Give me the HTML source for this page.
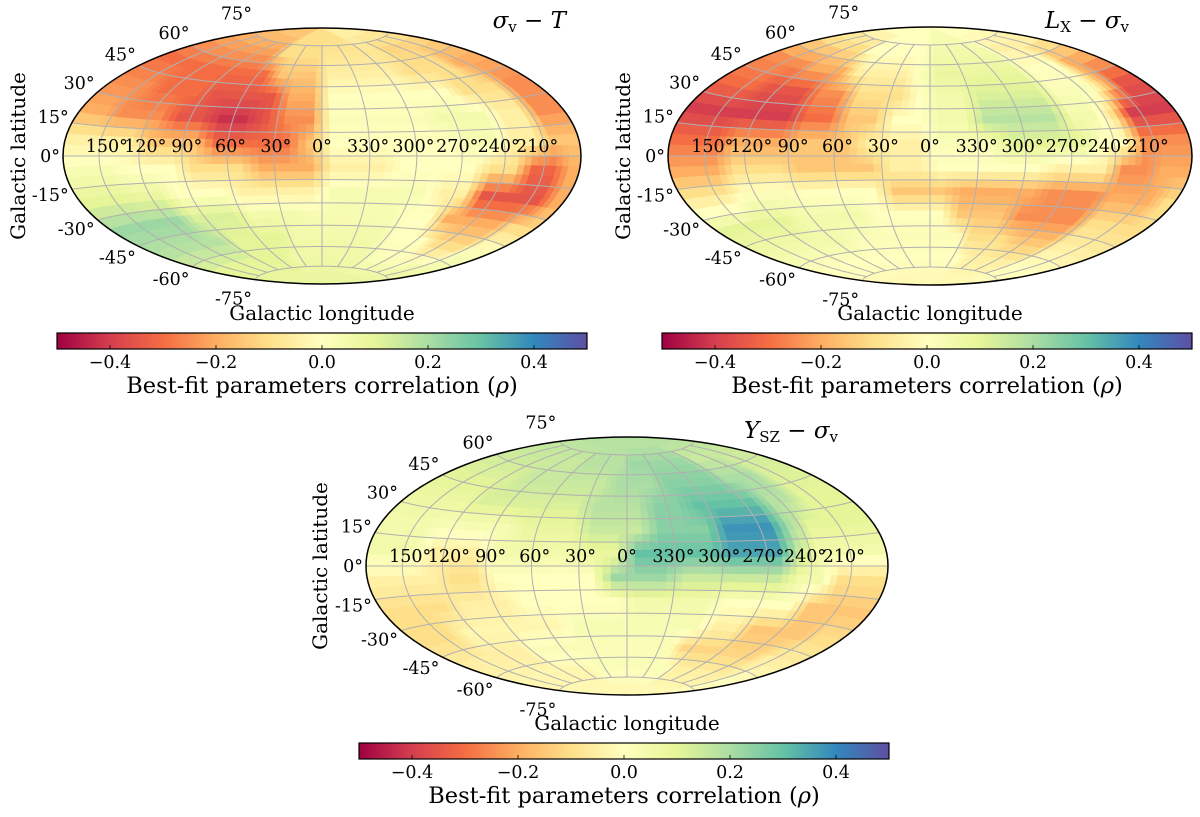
<!DOCTYPE html>
<html><head><meta charset="utf-8">
<style>
html,body{margin:0;padding:0;background:#fff;}
svg{display:block;font-family:"DejaVu Serif","Liberation Serif",serif;}
</style></head>
<body>
<svg id="fig" width="1200" height="817" viewBox="0 0 1200 817" xmlns="http://www.w3.org/2000/svg">
<defs>
<linearGradient id="spectral" x1="0" x2="1" y1="0" y2="0">
<stop offset="0" stop-color="#9e0142"/><stop offset="0.1" stop-color="#d53e4f"/><stop offset="0.2" stop-color="#f46d43"/><stop offset="0.3" stop-color="#fdae61"/><stop offset="0.4" stop-color="#fee08b"/><stop offset="0.5" stop-color="#ffffbf"/><stop offset="0.6" stop-color="#e6f598"/><stop offset="0.7" stop-color="#abdda4"/><stop offset="0.8" stop-color="#66c2a5"/><stop offset="0.9" stop-color="#3288bd"/><stop offset="1" stop-color="#5e4fa2"/>
</linearGradient>
</defs>
</svg>
<script>
// Rows: latitude bands 90..75, 75..60, ..., -75..-90. Columns: 24 bins of 15°, screen left (l=180) to right (l=180 going through 0).
const ROWS_SIGMA_T = [
[-0.15,-0.15,-0.15,-0.15,-0.15,-0.15,-0.15,-0.15,-0.1,-0.1,-0.1,-0.1,-0.1,-0.1,-0.1,-0.1,-0.05,-0.05,-0.05,-0.05,-0.05,-0.05,-0.05,-0.05],
[-0.22,-0.22,-0.22,-0.22,-0.22,-0.22,-0.22,-0.22,-0.1,-0.1,-0.1,-0.1,-0.08,-0.08,-0.08,-0.08,-0.08,-0.08,-0.12,-0.12,-0.12,-0.12,-0.12,-0.12],
[-0.3,-0.3,-0.3,-0.3,-0.3,-0.3,-0.3,-0.3,-0.3,-0.15,-0.15,-0.15,-0.05,-0.05,-0.05,-0.05,-0.05,-0.1,-0.1,-0.1,-0.1,-0.2,-0.2,-0.2],
[-0.25,-0.25,-0.25,-0.3,-0.3,-0.3,-0.35,-0.35,-0.35,-0.35,-0.2,-0.2,0.0,0.0,0.0,0.0,0.0,0.0,0.0,-0.1,-0.1,-0.1,-0.25,-0.25],
[-0.2,-0.2,-0.25,-0.25,-0.25,-0.35,-0.35,-0.42,-0.42,-0.35,-0.25,-0.25,0.02,0.02,0.02,0.02,0.02,0.05,0.05,0.05,-0.05,-0.05,-0.25,-0.25],
[-0.05,-0.05,-0.05,-0.05,-0.15,-0.15,-0.15,-0.3,-0.3,-0.3,-0.3,-0.15,0.0,0.0,0.0,0.0,0.0,0.0,0.03,0.03,-0.05,-0.05,-0.15,-0.15],
[0.03,0.03,0.03,0.0,0.0,0.0,-0.1,-0.1,-0.1,-0.2,-0.2,-0.2,-0.05,-0.05,-0.05,0.0,0.0,0.0,0.0,-0.1,-0.1,-0.32,-0.32,-0.2],
[0.1,0.1,0.1,0.08,0.08,0.0,0.0,0.0,-0.05,-0.05,-0.05,-0.05,0.03,0.03,0.03,0.03,0.03,-0.05,-0.05,-0.35,-0.35,-0.35,-0.35,-0.2],
[0.22,0.22,0.22,0.22,0.22,0.12,0.12,0.12,0.05,0.05,0.05,0.03,0.03,0.03,0.03,0.03,0.0,0.0,-0.2,-0.2,-0.2,-0.2,-0.1,-0.1],
[0.18,0.18,0.18,0.18,0.18,0.18,0.1,0.1,0.1,0.1,0.05,0.05,0.05,0.05,0.05,0.05,0.0,0.0,0.0,-0.1,-0.1,-0.1,0.02,0.02],
[0.1,0.1,0.1,0.1,0.1,0.1,0.1,0.1,0.1,0.06,0.06,0.06,0.06,0.06,0.06,0.06,0.02,0.02,0.02,0.02,0.02,0.05,0.05,0.05],
[0.08,0.08,0.08,0.08,0.08,0.08,0.08,0.08,0.08,0.08,0.08,0.08,0.08,0.08,0.08,0.08,0.08,0.08,0.08,0.08,0.08,0.08,0.08,0.08]
];
const ROWS_LX_SIGMA = [
[0.0,0.0,0.0,0.0,0.0,0.0,0.0,0.0,0.0,0.0,0.0,0.0,0.03,0.03,0.03,0.03,0.03,0.0,0.0,0.0,0.0,0.0,0.0,0.0],
[-0.1,-0.1,-0.1,-0.1,-0.1,-0.1,0.0,0.0,0.0,0.0,0.0,0.0,0.05,0.05,0.05,0.05,0.05,0.05,-0.05,-0.05,-0.05,-0.05,-0.05,-0.05],
[-0.25,-0.25,-0.25,-0.25,-0.2,-0.2,-0.2,-0.05,-0.05,-0.05,-0.05,0.02,0.08,0.08,0.08,0.08,0.08,0.08,0.0,0.0,0.0,-0.2,-0.2,-0.2],
[-0.3,-0.3,-0.3,-0.35,-0.35,-0.35,-0.25,-0.25,-0.1,-0.1,-0.1,0.0,0.05,0.05,0.12,0.12,0.12,0.12,0.02,0.02,0.02,-0.15,-0.35,-0.35],
[-0.4,-0.4,-0.4,-0.4,-0.4,-0.4,-0.3,-0.3,-0.15,-0.15,0.0,0.0,0.05,0.05,0.18,0.18,0.18,0.18,0.05,0.05,-0.1,-0.4,-0.4,-0.4],
[-0.3,-0.3,-0.3,-0.2,-0.2,-0.2,-0.15,-0.15,-0.15,-0.05,-0.05,-0.05,0.02,0.02,0.02,0.1,0.1,0.1,0.1,0.0,0.0,-0.25,-0.25,-0.25],
[-0.2,-0.2,-0.2,-0.1,-0.1,-0.1,-0.15,-0.15,-0.15,-0.15,-0.05,-0.05,0.0,0.0,0.0,0.0,0.0,-0.05,-0.05,-0.05,-0.25,-0.25,-0.2,-0.2],
[-0.05,-0.05,-0.05,0.02,0.02,0.02,0.0,0.0,0.0,0.0,-0.15,-0.15,-0.15,-0.2,-0.2,-0.2,-0.2,-0.25,-0.25,-0.25,-0.2,-0.2,-0.2,-0.1],
[0.1,0.1,0.1,0.1,0.1,0.05,0.05,0.05,0.05,0.0,0.0,0.0,0.0,-0.15,-0.15,-0.15,-0.25,-0.25,-0.25,-0.25,-0.1,-0.1,-0.1,-0.1],
[0.05,0.05,0.05,0.05,0.05,0.05,0.05,0.02,0.02,0.02,0.02,0.02,0.02,0.02,-0.1,-0.1,-0.1,-0.15,-0.15,-0.15,-0.05,-0.05,-0.05,-0.05],
[0.0,0.0,0.0,0.0,0.0,0.0,0.0,0.0,0.0,0.0,0.0,0.0,0.0,0.0,0.0,-0.05,-0.05,-0.05,-0.05,-0.05,0.0,0.0,0.0,0.0],
[-0.02,-0.02,-0.02,-0.02,-0.02,-0.02,-0.02,-0.02,-0.02,-0.02,-0.02,-0.02,-0.02,-0.02,-0.02,-0.02,-0.02,-0.02,-0.02,-0.02,-0.02,-0.02,-0.02,-0.02]
];
const ROWS_YSZ_SIGMA = [
[0.18,0.18,0.18,0.18,0.18,0.18,0.18,0.18,0.18,0.18,0.18,0.18,0.18,0.18,0.18,0.18,0.18,0.18,0.18,0.18,0.18,0.18,0.18,0.18],
[0.15,0.15,0.15,0.15,0.15,0.15,0.15,0.15,0.18,0.18,0.18,0.18,0.22,0.22,0.22,0.22,0.22,0.22,0.15,0.15,0.15,0.15,0.15,0.15],
[0.12,0.12,0.12,0.12,0.12,0.15,0.15,0.15,0.15,0.15,0.15,0.2,0.2,0.2,0.25,0.25,0.25,0.25,0.2,0.2,0.2,0.12,0.12,0.12],
[0.08,0.08,0.08,0.08,0.12,0.12,0.12,0.12,0.12,0.12,0.18,0.18,0.18,0.25,0.25,0.3,0.3,0.3,0.3,0.18,0.18,0.1,0.1,0.1],
[0.05,0.05,0.05,0.03,0.03,0.03,0.03,0.08,0.08,0.08,0.15,0.15,0.15,0.25,0.25,0.25,0.38,0.38,0.38,0.2,0.1,0.1,0.1,0.1],
[0.05,0.05,0.05,-0.05,-0.05,-0.05,0.05,0.05,0.05,0.05,0.08,0.08,0.3,0.3,0.3,0.3,0.35,0.35,0.35,0.15,0.05,0.05,0.05,0.05],
[-0.05,-0.05,-0.05,-0.05,-0.1,-0.1,0.0,0.0,0.0,0.0,0.0,0.22,0.22,0.22,0.15,0.15,0.15,0.15,0.15,0.05,0.05,-0.1,-0.1,-0.1],
[-0.1,-0.1,-0.1,-0.1,-0.05,-0.05,-0.05,0.0,0.0,0.0,0.0,0.0,0.05,0.05,0.05,0.05,0.0,0.0,0.0,0.0,-0.15,-0.15,-0.15,-0.15],
[-0.1,-0.1,-0.1,-0.03,-0.03,-0.03,-0.03,-0.03,-0.03,0.03,0.03,0.03,0.03,0.03,0.03,0.03,-0.05,-0.05,-0.15,-0.15,-0.15,-0.15,-0.1,-0.1],
[-0.05,-0.05,-0.05,-0.05,-0.05,-0.05,0.02,0.02,0.02,0.02,0.02,0.02,0.02,0.02,0.02,-0.12,-0.12,-0.12,-0.12,-0.12,-0.12,-0.05,-0.05,-0.05],
[-0.03,-0.03,-0.03,-0.03,-0.03,-0.03,-0.03,-0.03,-0.03,0.02,0.02,0.02,0.02,0.02,0.02,0.02,-0.05,-0.05,-0.05,-0.05,-0.05,-0.05,0.0,0.0],
[-0.02,-0.02,-0.02,-0.02,-0.02,-0.02,-0.02,-0.02,-0.02,-0.02,-0.02,-0.02,-0.02,-0.02,-0.02,-0.02,-0.02,-0.02,-0.02,-0.02,-0.02,-0.02,-0.02,-0.02]
];
const LON_LABELS = ["150°","120°","90°","60°","30°","0°","330°","300°","270°","240°","210°"];
const LAT_TICKS = [75,60,45,30,15,0,-15,-30,-45,-60,-75];
const CBAR_TICKS = [-0.4,-0.2,0.0,0.2,0.4];
const CBAR_TICK_LABELS = ["\u22120.4","\u22120.2","0.0","0.2","0.4"];

const NS="http://www.w3.org/2000/svg";
const svg=document.getElementById('fig');
const SPEC=["#9e0142","#d53e4f","#f46d43","#fdae61","#fee08b","#ffffbf","#e6f598","#abdda4","#66c2a5","#3288bd","#5e4fa2"];
function hex(h){return [parseInt(h.substr(1,2),16),parseInt(h.substr(3,2),16),parseInt(h.substr(5,2),16)];}
function cmap(v){let t=(v+0.5)/1.0;t=Math.max(0,Math.min(1,t));const p=t*10;const i=Math.min(9,Math.floor(p));const f=p-i;const a=hex(SPEC[i]),b=hex(SPEC[i+1]);return 'rgb('+a.map((c,k)=>Math.round(c+(b[k]-c)*f)).join(',')+')';}
function mk(tag,attrs,parent){const e=document.createElementNS(NS,tag);for(const k in attrs)e.setAttribute(k,attrs[k]);(parent||svg).appendChild(e);return e;}

function panel(P){
  const R=Math.PI/180;
  function proj(lam,phi){const l=lam*R,p=phi*R;const d=Math.sqrt(1+Math.cos(p)*Math.cos(l/2));const X=2*Math.SQRT2*Math.cos(p)*Math.sin(l/2)/d;const Y=Math.SQRT2*Math.sin(p)/d;return [P.cx+P.a*X/(2*Math.SQRT2),P.cy-P.b*Y/Math.SQRT2];}
  const rows=P.rows;
  function val(lam,phi){
    let u=(lam+180)/15-0.5, v=(90-phi)/15-0.5;
    u=Math.max(0,Math.min(rows[0].length-1,u)); v=Math.max(0,Math.min(rows.length-1,v));
    const i0=Math.floor(u),j0=Math.floor(v),i1=Math.min(rows[0].length-1,i0+1),j1=Math.min(rows.length-1,j0+1);
    const fu=u-i0,fv=v-j0;
    return (rows[j0][i0]*(1-fu)+rows[j0][i1]*fu)*(1-fv)+(rows[j1][i0]*(1-fu)+rows[j1][i1]*fu)*fv;
  }
  const g=mk('g',{});
  
  
  const clipId='clip-'+P.name;
  const cp=mk('clipPath',{id:clipId},g);
  mk('ellipse',{cx:P.cx,cy:P.cy,rx:P.a,ry:P.b},cp);
  const cells=mk('g',{'clip-path':'url(#'+clipId+')'},g);
  
  
  const S=5;
  for(let p0=90;p0>-90;p0-=S){
    const p1=p0-S;
    for(let l0=-180;l0<180;l0+=S){
      const l1=l0+S;
      const pts=[proj(l0,p0),proj((l0+l1)/2,p0),proj(l1,p0),proj(l1,p1),proj((l0+l1)/2,p1),proj(l0,p1)];
      const col=cmap(val(l0+S/2,p0-S/2));
      const e=mk('polygon',{points:pts.map(q=>q[0].toFixed(1)+','+q[1].toFixed(1)).join(' '),fill:col,stroke:col,'stroke-width':0.7},cells);
      
      
    }
  }
  const grid=mk('g',{fill:'none',stroke:'#b0b0b0','stroke-width':1},g);
  
  
  LAT_TICKS.forEach(ph=>{const pts=[];for(let l=-180;l<=180;l+=3)pts.push(proj(l,ph));mk('polyline',{points:pts.map(q=>q.join(',')).join(' ')},grid);});
  for(let k=1;k<12;k++){const lam=-180+30*k;const pts=[];for(let ph=-75;ph<=75;ph+=3)pts.push(proj(lam,ph));mk('polyline',{points:pts.map(q=>q.join(',')).join(' ')},grid);}
  const el=mk('ellipse',{cx:P.cx,cy:P.cy,rx:P.a,ry:P.b,fill:'none',stroke:'#000','stroke-width':1.5},g);
  
  
  LON_LABELS.forEach((t,k)=>{const lam=-150+30*k;const q=proj(lam,0);const x=P.cx+(q[0]-P.cx)*0.965;
    const e=mk('text',{x:x,y:P.cy-4,'text-anchor':'middle','font-size':17.5,fill:'#000'},g);e.textContent=t;
    
    });
  const offs={75:-19,60:-12,45:-11,30:-9,15:-6,0:0};
  LAT_TICKS.forEach(ph=>{const q=proj(-180,ph);const dy=ph>=0?offs[ph]:-offs[-ph];
    const e=mk('text',{x:q[0]-3,y:q[1]+dy+6,'text-anchor':'end','font-size':17.5,fill:'#000'},g);e.textContent=(ph<0?'-':'')+Math.abs(ph)+'°';
    
    });
  const xl=mk('text',{x:P.cx,y:P.cy+164,'text-anchor':'middle','font-size':20},g);xl.textContent='Galactic longitude';
  
  
  const yl=mk('text',{x:0,y:0,'text-anchor':'middle','font-size':20,transform:'translate('+(P.ylx+7)+','+P.cy+') rotate(-90)'},g);yl.textContent='Galactic latitude';
  
  
  const ti=mk('text',{x:P.tx,y:P.ty,'text-anchor':'end','font-size':23,'font-style':'italic'},g);
  
  
  ti.innerHTML=P.title;
  const cb=mk('g',{},g);
  
  
  mk('rect',{x:P.bx,y:P.by,width:530,height:16,fill:'url(#spectral)',stroke:'#000','stroke-width':1.2},cb);
  const cx=v=>P.bx+(v+0.5)*530;
  CBAR_TICKS.forEach((v,i)=>{mk('line',{x1:cx(v),x2:cx(v),y1:P.by+16,y2:P.by+12,stroke:'#000','stroke-width':0.8},cb);
    const t=mk('text',{x:cx(v),y:P.by+35,'text-anchor':'middle','font-size':17.5},cb);t.textContent=CBAR_TICK_LABELS[i];
    
    });
  const cl=mk('text',{x:P.bx+265,y:P.by+60,'text-anchor':'middle','font-size':22.5},cb);
  cl.innerHTML='Best-fit parameters correlation (<tspan font-style="italic">ρ</tspan>)';
  
  
}
panel({name:'sigma-t',rows:ROWS_SIGMA_T,cx:322,cy:156,a:259,b:128,ylx:18,bx:57,by:333,tx:566,ty:28,
  title:'σ<tspan font-size="15" font-style="normal" dy="4">v</tspan><tspan dy="-4" font-style="normal"> − </tspan>T'});
panel({name:'lx-sigma',rows:ROWS_LX_SIGMA,cx:930,cy:156,a:262,b:129,ylx:623,bx:662,by:333,tx:1129,ty:28,
  title:'L<tspan font-size="15" font-style="normal" dy="4">X</tspan><tspan dy="-4" font-style="normal"> − </tspan>σ<tspan font-size="15" font-style="normal" dy="4">v</tspan>'});
panel({name:'ysz-sigma',rows:ROWS_YSZ_SIGMA,cx:627,cy:566,a:261,b:129,ylx:320,bx:359,by:743,tx:838,ty:438,
  title:'Y<tspan font-size="15" font-style="normal" dy="4">SZ</tspan><tspan dy="-4" font-style="normal"> − </tspan>σ<tspan font-size="15" font-style="normal" dy="4">v</tspan>'});
</script>
</body></html>
